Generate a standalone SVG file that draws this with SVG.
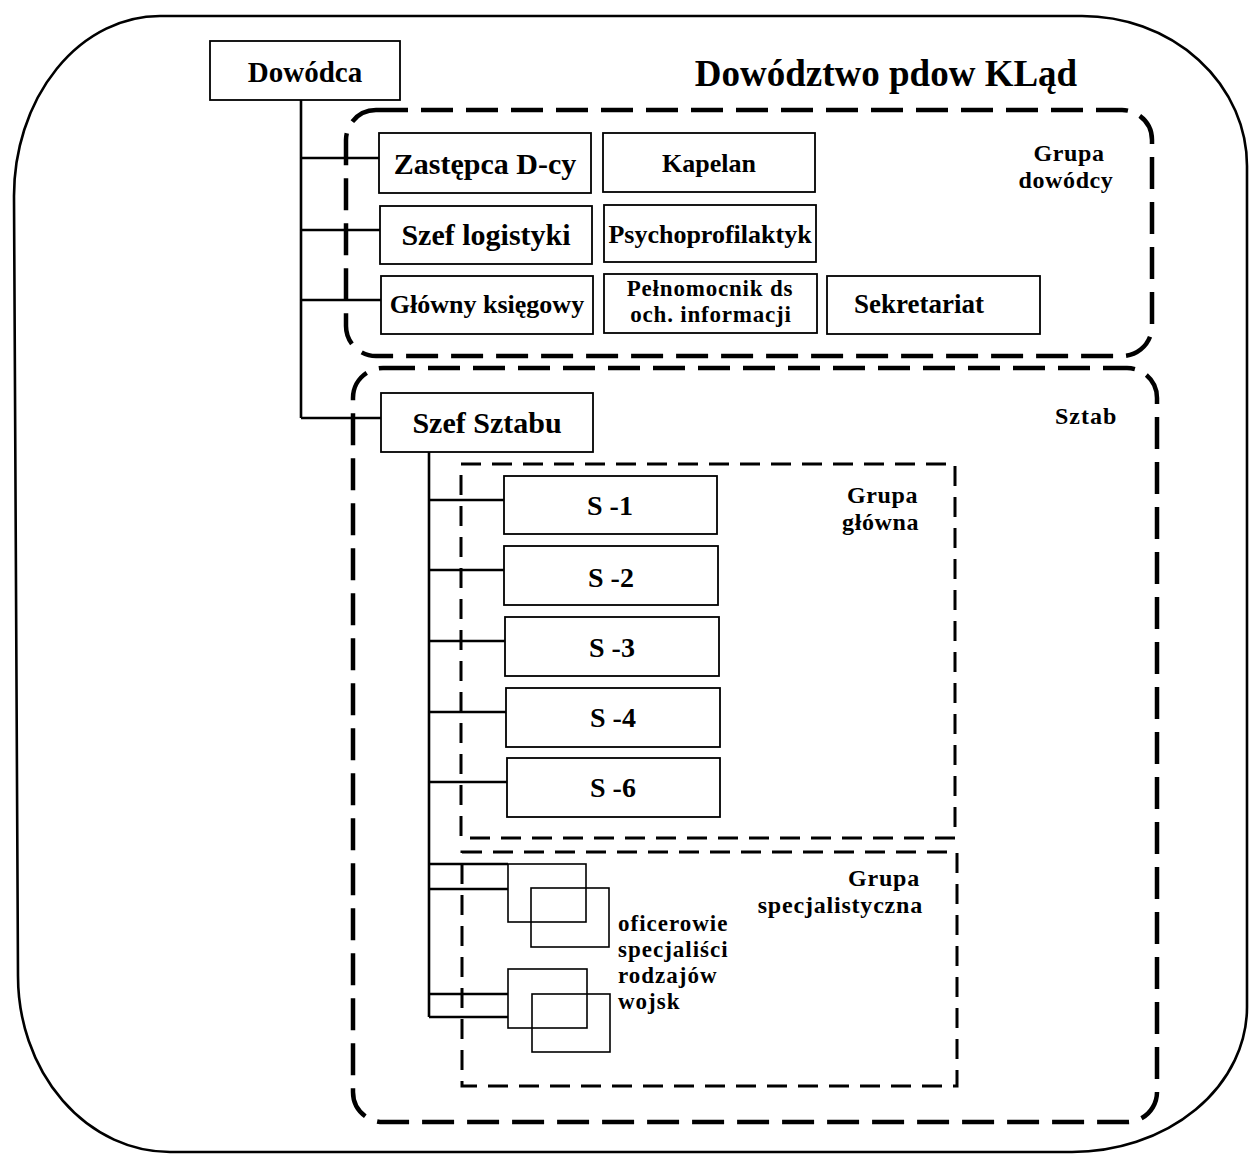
<svg xmlns="http://www.w3.org/2000/svg" width="1249" height="1155" viewBox="0 0 1249 1155">
  <style>
    .t { font-family: "Liberation Serif", "Times New Roman", serif; font-weight: bold; fill: #000; }
    .c { text-anchor: middle; }
    .e { text-anchor: end; }
    .box { fill: #fff; stroke: #000; stroke-width: 1.8; }
    .sub { fill: none; stroke: #000; stroke-width: 1.6; }
    .conn { fill: none; stroke: #000; stroke-width: 2.6; }
    .frame { fill: none; stroke: #000; stroke-width: 2.6; }
    .grp { fill: none; stroke: #000; stroke-width: 4.5; stroke-dasharray: 32 13; }
    .grp2 { fill: none; stroke: #000; stroke-width: 3; stroke-dasharray: 20 11; }
  </style>

  <!-- outer frame of the headquarters -->
  <path id="frame" class="frame" d="M160,16 L1082,16 A165,150 0 0 1 1247,166 L1247,1007 A175,145 0 0 1 1072,1152 L170,1152 A152,176 0 0 1 18,976 L14,196 A146,180 0 0 1 160,16 Z"/>

  <text class="t c" x="886" y="86" font-size="37">Dowództwo pdow KLąd</text>

  <!-- group outlines -->
  <g id="groups">
    <rect id="grupa-dowodcy" class="grp" x="346" y="110" width="806" height="246" rx="30" ry="30"/>
    <rect id="sztab" class="grp" x="353" y="368" width="804" height="754" rx="30" ry="30"/>
    <rect id="grupa-glowna" class="grp2" x="461" y="464" width="494" height="374"/>
    <rect id="grupa-specjalistyczna" class="grp2" x="462" y="852" width="495" height="234"/>
  </g>

  <!-- group labels -->
  <text class="t c" font-size="24" letter-spacing="0.6"><tspan x="1069" y="161">Grupa</tspan><tspan x="1066" y="188">dowódcy</tspan></text>
  <text class="t" x="1055" y="424" font-size="24" letter-spacing="1">Sztab</text>
  <text class="t e" font-size="24" letter-spacing="0.6"><tspan x="918" y="503">Grupa</tspan><tspan x="919" y="530">główna</tspan></text>
  <text class="t e" font-size="24" letter-spacing="0.8"><tspan x="920" y="886">Grupa</tspan><tspan x="923" y="913">specjalistyczna</tspan></text>

  <!-- connectors -->
  <g id="connectors">
    <path class="conn" d="M301,100 V418 M301,158 H379 M301,230 H380 M301,300 H381 M301,418 H381"/>
    <path class="conn" d="M429,452 V1017 M429,500 H504 M429,570 H504 M429,641 H505 M429,712 H506 M429,782 H507"/>
    <path class="conn" d="M429,864 H508 M429,889 H508 M429,994 H508 M429,1017 H508"/>
  </g>

  <!-- command -->
  <g id="dowodca"><rect class="box" x="210" y="41" width="190" height="59"/><text class="t c" x="305" y="82" font-size="29">Dowódca</text></g>

  <g id="zastepca"><rect class="box" x="379" y="133" width="212" height="60"/><text class="t c" x="485" y="174" font-size="30">Zastępca D-cy</text></g>
  <g id="kapelan"><rect class="box" x="603" y="133" width="212" height="59"/><text class="t c" x="709" y="172" font-size="26">Kapelan</text></g>
  <g id="szef-logistyki"><rect class="box" x="380" y="206" width="212" height="58"/><text class="t c" x="486" y="245" font-size="30">Szef logistyki</text></g>
  <g id="psychoprofilaktyk"><rect class="box" x="604" y="205" width="212" height="57"/><text class="t c" x="710" y="243" font-size="26">Psychoprofilaktyk</text></g>
  <g id="glowny-ksiegowy"><rect class="box" x="381" y="276" width="212" height="58"/><text class="t c" x="487" y="313" font-size="26">Główny księgowy</text></g>
  <g id="pelnomocnik"><rect class="box" x="604" y="274" width="213" height="59"/><text class="t c" font-size="23" letter-spacing="0.8"><tspan x="710" y="296">Pełnomocnik ds</tspan><tspan x="711" y="322">och. informacji</tspan></text></g>
  <g id="sekretariat"><rect class="box" x="827" y="276" width="213" height="58"/><text class="t c" x="919" y="313" font-size="27">Sekretariat</text></g>

  <!-- staff -->
  <g id="szef-sztabu"><rect class="box" x="381" y="393" width="212" height="59"/><text class="t c" x="487" y="433" font-size="30">Szef Sztabu</text></g>

  <g id="s1"><rect class="box" x="504" y="476" width="213" height="58"/><text class="t c" x="610" y="515" font-size="28">S -1</text></g>
  <g id="s2"><rect class="box" x="504" y="546" width="214" height="59"/><text class="t c" x="611" y="587" font-size="28">S -2</text></g>
  <g id="s3"><rect class="box" x="505" y="617" width="214" height="59"/><text class="t c" x="612" y="657" font-size="28">S -3</text></g>
  <g id="s4"><rect class="box" x="506" y="688" width="214" height="59"/><text class="t c" x="613" y="727" font-size="28">S -4</text></g>
  <g id="s6"><rect class="box" x="507" y="758" width="213" height="59"/><text class="t c" x="613" y="797" font-size="28">S -6</text></g>

  <!-- specialist officers -->
  <g id="specjalisci-1">
    <rect class="sub" x="508" y="864" width="78" height="58"/>
    <rect class="sub" x="531" y="888" width="78" height="59"/>
  </g>
  <g id="specjalisci-2">
    <rect class="sub" x="508" y="969" width="79" height="59"/>
    <rect class="sub" x="532" y="994" width="78" height="58"/>
  </g>
  <text class="t" font-size="23" letter-spacing="1"><tspan x="618" y="931">oficerowie</tspan><tspan x="618" y="957">specjaliści</tspan><tspan x="618" y="983">rodzajów</tspan><tspan x="618" y="1009">wojsk</tspan></text>
</svg>
